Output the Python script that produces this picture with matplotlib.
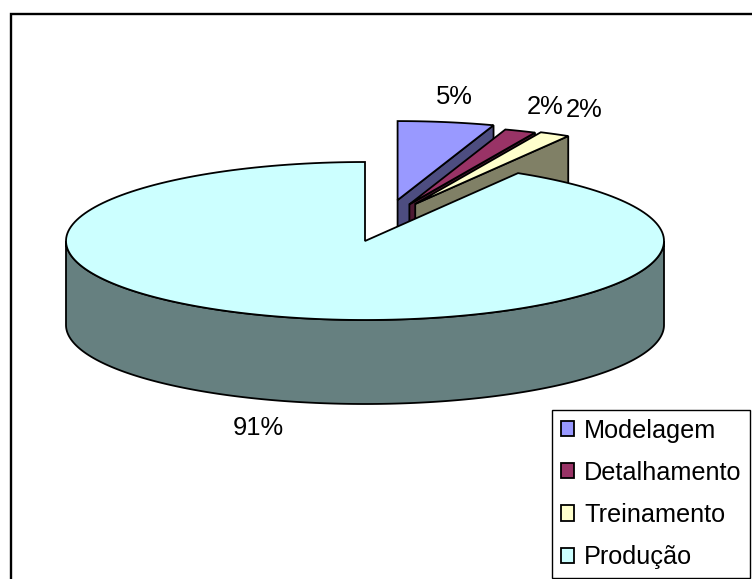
import numpy as np
import matplotlib
matplotlib.use('Agg')
import matplotlib.pyplot as plt
from matplotlib.patches import Patch, Polygon, Rectangle

plt.rcParams['font.family'] = ['Liberation Sans', 'DejaVu Sans']

# --- Data ---
labels = ['Modelagem', 'Detalhamento', 'Treinamento', 'Produção']
values = [5.2, 1.7, 1.65, 91.45]
top_colors = ['#9999FF', '#993366', '#FFFFCC', '#CCFFFF']
side_colors = ['#4D4D80', '#4D1A33', '#808066', '#668080']

# --- Pie geometry (pixels) ---
cx, cy = 365, 241
rx, ry = 299, 79
depth = 84
# how far each slice is pulled out, as fraction of radius (x, y)
explode = [(0.67, 0.525), (0.40, 0.50), (0.36, 0.53), (0, 0)]
label_pos = [(454, 97), (545, 107), (584, 110), (258, 428)]

fig = plt.figure(figsize=(7.52, 5.79), dpi=100)
ax = fig.add_axes([0, 0, 1, 1])
ax.set_xlim(0, 752)
ax.set_ylim(579, 0)
ax.axis('off')

# chart frame, runs off the right and bottom of the picture
ax.add_patch(Rectangle((10.5, 14), 800, 600, fc='white', ec='black', lw=1.7, zorder=0))

edges = np.cumsum([0] + values) / np.sum(values) * 2 * np.pi

for i in range(len(values)):
    t0, t1 = edges[i], edges[i + 1]
    ex, ey = explode[i]
    mid = (t0 + t1) / 2
    ox = cx + rx * ex * np.sin(mid)
    oy = cy - ry * ey * np.cos(mid)
    t = np.linspace(t0, t1, 200)
    x = ox + rx * np.sin(t)
    y = oy - ry * np.cos(t)
    z = 2 + i

    if i < 3:
        # cut face at the end of the slice
        face = [(ox, oy), (x[-1], y[-1]), (x[-1], y[-1] + depth), (ox, oy + depth)]
        ax.add_patch(Polygon(face, fc=side_colors[i], ec='black', lw=1.3, zorder=z))
    else:
        # front rim of the big slice
        tr = np.linspace(np.pi / 2, 3 * np.pi / 2, 200)
        xr = ox + rx * np.sin(tr)
        yr = oy - ry * np.cos(tr)
        rim = np.r_[np.c_[xr, yr], np.c_[xr, yr + depth][::-1]]
        ax.add_patch(Polygon(rim, fc=side_colors[i], ec='black', lw=1.3, zorder=z))

    top = np.r_[[[ox, oy]], np.c_[x, y]]
    ax.add_patch(Polygon(top, fc=top_colors[i], ec='black', lw=1.3, zorder=z + 0.5))

    ax.text(label_pos[i][0], label_pos[i][1], f'{values[i]:.0f}%', fontsize=18.4,
            ha='center', va='center', color='black', zorder=10)

handles = [Patch(fc=c, ec='black', lw=1.3) for c in top_colors]
leg = ax.legend(handles, labels, loc='upper left', bbox_to_anchor=(552, 410),
                bbox_transform=ax.transData, fontsize=18.2, frameon=True, fancybox=False,
                framealpha=1, edgecolor='black', borderaxespad=0, borderpad=0.34,
                labelspacing=0.72, handlelength=0.55, handleheight=0.55, handletextpad=0.38)
leg.get_frame().set_linewidth(1.0)
leg.set_zorder(20)

fig.savefig('out.png', dpi=100)
